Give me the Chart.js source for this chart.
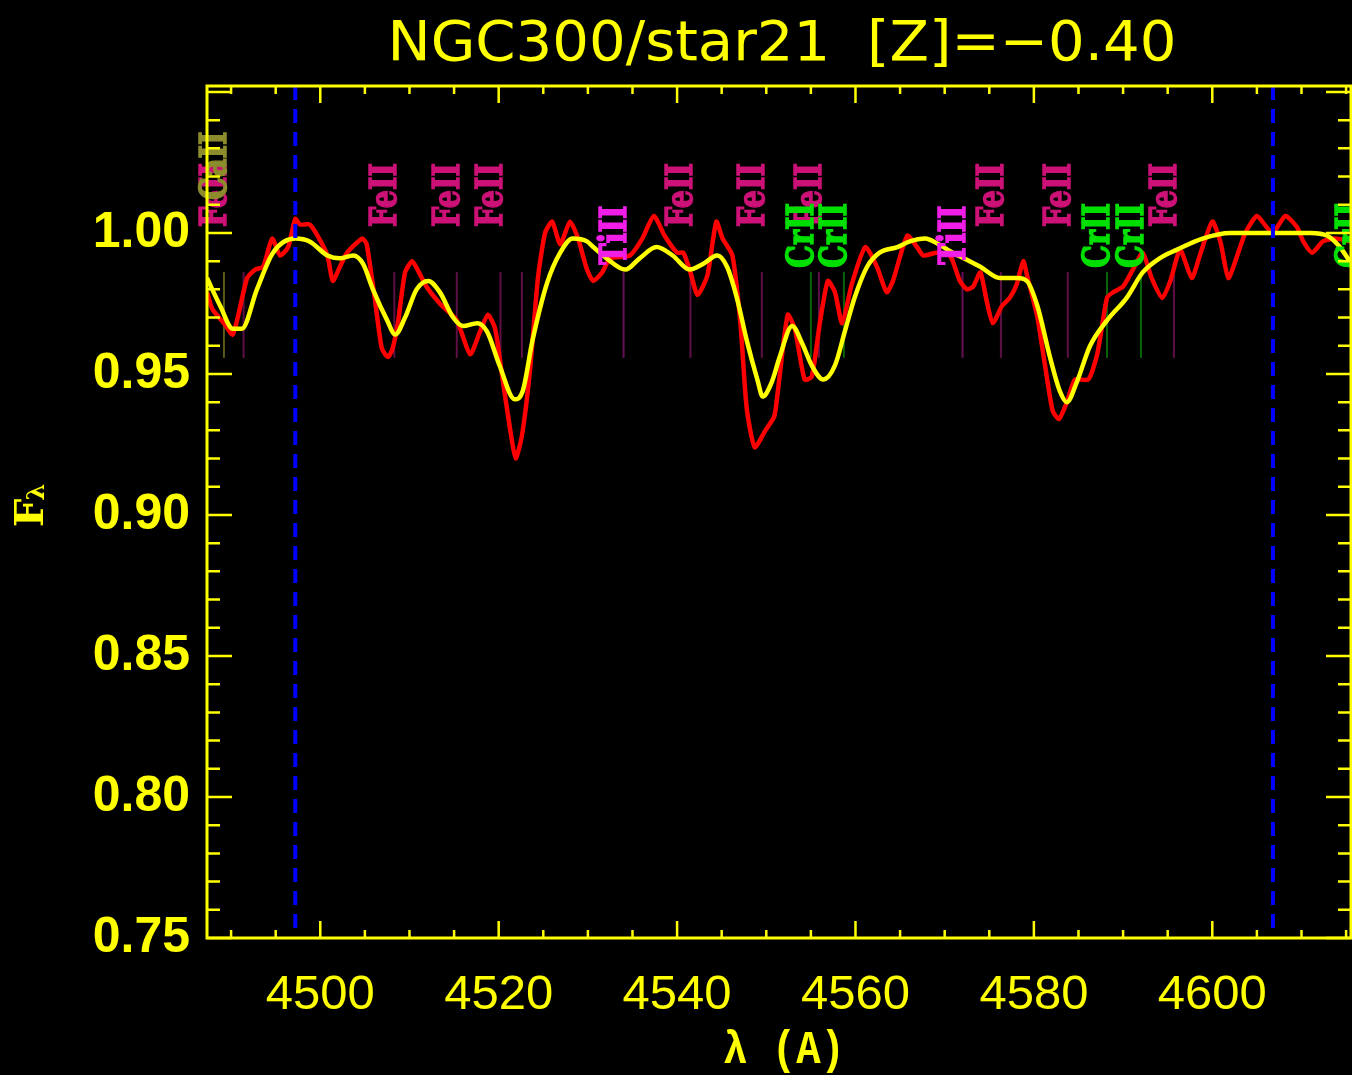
<!DOCTYPE html>
<html lang="en">
  <head>
    <meta charset="utf-8" />
    <title>NGC300/star21</title>
    <style>
      * {
        margin: 0;
        padding: 0;
      }
      body {
        background: #000;
      }
      .chartBox {
        width: 1352px;
        height: 1075px;
        background: #000;
      }
    </style>
  </head>
  <body>
    <div class="chartBox">
      <canvas id="myChart"></canvas>
    </div>
    <script src="https://cdn.jsdelivr.net/npm/chart.js/dist/chart.umd.min.js"></script>
    <script>
      // observed spectrum (red)
      const obsWave = [
        4487.3, 4487.9, 4489.2, 4490.2, 4491.8, 4492.7, 4493.6, 4494.6, 4495.5, 4496.4,
        4497.2, 4497.7, 4498.8, 4499.7, 4500.8, 4501.4, 4502.2, 4503.0, 4504.7, 4505.2,
        4506.1, 4506.9, 4507.6, 4508.1, 4508.7, 4509.5, 4510.3, 4510.9, 4511.9, 4513.4,
        4515.3, 4516.8, 4517.9, 4518.8, 4519.6, 4520.4, 4521.3, 4521.9, 4522.6, 4523.5,
        4524.4, 4525.2, 4526.0, 4526.9, 4528.0, 4528.9, 4529.9, 4530.6, 4531.6, 4532.5,
        4534.7, 4536.1, 4537.4, 4538.6, 4540.0, 4540.7, 4541.5, 4542.3, 4543.4, 4544.4,
        4545.1, 4546.2, 4547.1, 4547.8, 4548.7, 4549.9, 4550.9, 4551.3, 4552.4, 4553.2,
        4554.3, 4555.1, 4556.0, 4556.9, 4557.7, 4558.5, 4559.6, 4561.1, 4562.4, 4563.5,
        4564.2, 4565.8, 4566.9, 4567.6, 4569.1, 4570.6, 4571.7, 4572.5, 4573.2, 4574.0,
        4574.7, 4575.4, 4576.4, 4577.3, 4578.1, 4578.8, 4579.3, 4580.4, 4581.2, 4582.1,
        4582.8, 4583.7, 4584.6, 4586.1, 4587.1, 4588.2, 4588.9, 4590.0, 4591.1, 4592.2,
        4593.2, 4594.4, 4595.3, 4596.4, 4597.7, 4598.6, 4600.0, 4600.9, 4601.8, 4602.8,
        4603.7, 4605.0, 4606.1, 4606.8, 4608.2, 4609.5, 4610.2, 4611.2, 4612.4, 4613.8,
        4615.4,
      ];
      const obsFlux = [
        0.979, 0.973, 0.968, 0.964, 0.984, 0.987, 0.988, 0.998, 0.992, 0.995,
        1.005, 1.003, 1.003, 0.999, 0.992, 0.983, 0.988, 0.993, 0.998, 0.996,
        0.977, 0.959, 0.956, 0.959, 0.968, 0.986, 0.990, 0.987, 0.981, 0.975,
        0.969, 0.957, 0.965, 0.971, 0.966, 0.949, 0.930, 0.920, 0.928, 0.951,
        0.984, 1.000, 1.004, 0.996, 1.004, 0.998, 0.987, 0.983, 0.986, 0.991,
        0.992, 0.998, 1.006, 0.999, 0.993, 0.993, 0.986, 0.978, 0.985, 1.004,
        0.998, 0.992, 0.968, 0.938, 0.924, 0.930, 0.935, 0.944, 0.971, 0.966,
        0.948, 0.949, 0.968, 0.983, 0.979, 0.968, 0.982, 0.995, 0.988, 0.979,
        0.983, 0.999, 0.995, 0.992, 0.993, 0.992, 0.983, 0.980, 0.981, 0.986,
        0.976, 0.968, 0.974, 0.977, 0.982, 0.990, 0.984, 0.970, 0.954, 0.937,
        0.934, 0.940, 0.948, 0.948, 0.957, 0.977, 0.979, 0.981, 0.987, 0.993,
        0.984, 0.977, 0.983, 0.994, 0.984, 0.992, 1.004, 0.997, 0.984, 0.992,
        1.000, 1.006, 1.002, 1.000, 1.006, 1.002, 0.997, 0.993, 0.997, 0.998,
        0.997,
      ];

      // model spectrum (yellow)
      const fitWave = [
        4487.3, 4488.8, 4490.2, 4491.2, 4492.9, 4494.7, 4497.2, 4498.8, 4500.8, 4502.2,
        4503.7, 4504.8, 4505.9, 4507.5, 4508.4, 4509.5, 4510.8, 4512.1, 4513.4, 4514.9,
        4516.0, 4517.6, 4518.7, 4520.1, 4521.8, 4522.7, 4523.8, 4525.4, 4526.9, 4528.3,
        4529.9, 4530.6, 4532.1, 4534.2, 4535.8, 4537.7, 4539.5, 4541.4, 4542.9, 4544.5,
        4545.6, 4546.7, 4547.8, 4549.0, 4549.6, 4550.6, 4551.5, 4552.9, 4554.0, 4555.1,
        4556.4, 4557.7, 4558.8, 4559.9, 4561.3, 4562.7, 4564.7, 4566.1, 4567.8, 4569.3,
        4570.9, 4572.8, 4574.0, 4576.2, 4578.1, 4579.2, 4580.4, 4581.8, 4582.9, 4583.7,
        4584.8, 4586.3, 4588.2, 4590.4, 4592.2, 4594.1, 4596.0, 4598.9, 4602.0, 4605.0,
        4608.0, 4611.0, 4612.9, 4614.3, 4615.4,
      ];
      const fitFlux = [
        0.984, 0.974, 0.966, 0.966, 0.980, 0.993, 0.998, 0.997, 0.992, 0.991,
        0.992, 0.989, 0.980, 0.969, 0.964, 0.970, 0.980, 0.983, 0.979, 0.970,
        0.967, 0.968, 0.965, 0.953, 0.941, 0.944, 0.962, 0.982, 0.993, 0.998,
        0.997, 0.995, 0.991, 0.987, 0.991, 0.995, 0.992, 0.987, 0.989, 0.992,
        0.988, 0.977, 0.962, 0.948, 0.942, 0.947, 0.956, 0.967, 0.961, 0.953,
        0.948, 0.953, 0.965, 0.977, 0.988, 0.993, 0.995, 0.997, 0.998, 0.996,
        0.993, 0.990, 0.988, 0.984, 0.984, 0.983, 0.974, 0.956, 0.944, 0.940,
        0.947, 0.960, 0.969, 0.977, 0.986, 0.991, 0.994, 0.998, 1.000, 1.000,
        1.000, 1.000, 0.999, 0.995, 0.990,
      ];

      // fitting window limits (blue dashed)
      const cutWaves = [4497.2, 4606.8];

      // line identifications
      const lineWaves = [
        4489.2, 4491.4, 4508.3, 4515.3, 4520.2, 4522.6, 4534.0, 4541.5, 4549.5, 4555.0,
        4555.9, 4558.7, 4572.0, 4576.3, 4583.8, 4588.2, 4592.0, 4595.7, 4616.6,
      ];
      const lineIons = [
        "CaII", "FeII", "FeII", "FeII", "FeII", "FeII", "TiII", "FeII", "FeII", "CrII",
        "FeII", "CrII", "TiII", "FeII", "FeII", "CrII", "CrII", "FeII", "CrII",
      ];
      const labelWaves = [
        4489.2, 4508.3, 4515.3, 4520.2, 4541.5, 4549.5, 4555.9, 4576.3, 4583.8, 4595.7,
        4534.0, 4572.0, 4555.0, 4558.7, 4588.2, 4592.0, 4616.6, 4489.2,
      ];
      const labelIons = [
        "FeII", "FeII", "FeII", "FeII", "FeII", "FeII", "FeII", "FeII", "FeII", "FeII",
        "TiII", "TiII", "CrII", "CrII", "CrII", "CrII", "CrII", "CaII",
      ];

      const xTicks = [4500, 4520, 4540, 4560, 4580, 4600];
      const yTicks = [0.75, 0.8, 0.85, 0.9, 0.95, 1.0];

      const YELLOW = "#ffff00";
      const ionStyle = {
        FeII: { text: "#cc1177", line: "#5e1046", level: 1.0021 },
        TiII: { text: "#f01ee6", line: "#641058", level: 0.9887 },
        CrII: { text: "#00e000", line: "#0a640a", level: 0.9876 },
        CaII: { text: "#8c8c2c", line: "#5a5a14", level: 1.0117 },
      };

      // draw a string scaled to a given width
      function fitText(ctx, text, x, y, width, align) {
        const w = ctx.measureText(text).width;
        ctx.save();
        ctx.translate(x, y);
        ctx.scale(width / w, 1);
        ctx.textAlign = align;
        ctx.fillText(text, 0, 0);
        ctx.restore();
      }

      const spectrumDecor = {
        id: "spectrumDecor",
        beforeDatasetsDraw(chart) {
          const { ctx, chartArea, scales: { x, y } } = chart;
          ctx.save();
          ctx.lineWidth = 2;
          lineWaves.forEach((w, i) => {
            const px = x.getPixelForValue(w);
            if (px > chartArea.right) return;
            ctx.strokeStyle = ionStyle[lineIons[i]].line;
            ctx.beginPath();
            ctx.moveTo(px, y.getPixelForValue(0.9862));
            ctx.lineTo(px, y.getPixelForValue(0.9557));
            ctx.stroke();
          });
          ctx.restore();
        },
        afterDatasetsDraw(chart) {
          const { ctx, chartArea, scales: { x, y } } = chart;
          ctx.save();

          // blue dashed window limits
          ctx.strokeStyle = "#0000ff";
          ctx.lineWidth = 4;
          ctx.setLineDash([14, 9]);
          cutWaves.forEach((w) => {
            const px = x.getPixelForValue(w);
            ctx.beginPath();
            ctx.moveTo(px, chartArea.top);
            ctx.lineTo(px, chartArea.bottom);
            ctx.stroke();
          });
          ctx.setLineDash([]);

          // rotated ion labels (a thin stroke makes them heavier)
          ctx.font = 'bold 38px "DejaVu Serif"';
          const sx = 64 / ctx.measureText("FeII").width;
          labelWaves.forEach((w, i) => {
            const st = ionStyle[labelIons[i]];
            ctx.save();
            ctx.translate(x.getPixelForValue(w) + 2, y.getPixelForValue(st.level));
            ctx.rotate(-Math.PI / 2);
            ctx.scale(sx, 1);
            ctx.fillStyle = st.text;
            ctx.strokeStyle = st.text;
            ctx.lineWidth = 1.5;
            ctx.textAlign = "left";
            ctx.textBaseline = "alphabetic";
            ctx.fillText(labelIons[i], 0, 0);
            ctx.strokeText(labelIons[i], 0, 0);
            ctx.restore();
          });
          ctx.restore();
        },
        afterDraw(chart) {
          const { ctx, chartArea, scales: { x, y } } = chart;
          const { left, right, top, bottom } = chartArea;
          ctx.save();
          ctx.strokeStyle = YELLOW;
          ctx.fillStyle = YELLOW;

          // frame
          ctx.lineWidth = 3;
          ctx.strokeRect(left, top, right - left, bottom - top);

          // inward ticks
          ctx.lineWidth = 2.5;
          ctx.beginPath();
          for (let v = 4490; v <= x.max; v += 5) {
            const px = x.getPixelForValue(v);
            const len = v % 20 === 0 ? 17 : 8;
            ctx.moveTo(px, bottom);
            ctx.lineTo(px, bottom - len);
            ctx.moveTo(px, top);
            ctx.lineTo(px, top + len);
          }
          for (let k = 75; k <= 105; k++) {
            const py = y.getPixelForValue(k / 100);
            const len = k % 5 === 0 ? 25 : 13;
            ctx.moveTo(left, py);
            ctx.lineTo(left + len, py);
            ctx.moveTo(right, py);
            ctx.lineTo(right - len, py);
          }
          ctx.stroke();

          // title
          ctx.textBaseline = "alphabetic";
          ctx.font = '55px "DejaVu Sans"';
          fitText(ctx, "NGC300/star21  [Z]=\u22120.40", 782, 60, 789, "center");

          // x axis title
          ctx.font = 'bold 46px "Liberation Mono"';
          fitText(ctx, "\u03bb (A)", 784, 1063, 122, "center");

          // y axis title F_lambda
          ctx.translate(43, 527);
          ctx.rotate(-Math.PI / 2);
          ctx.textAlign = "left";
          ctx.font = 'bold 40px "DejaVu Serif"';
          ctx.fillText("F", 0, 0);
          const fw = ctx.measureText("F").width;
          ctx.font = 'bold 24px "DejaVu Serif"';
          ctx.fillText("\u03bb", fw - 2, 1);
          ctx.restore();
        },
      };

      const config = {
        type: "line",
        data: {
          datasets: [
            {
              label: "model",
              data: fitWave.map((w, i) => ({ x: w, y: fitFlux[i] })),
              borderColor: YELLOW,
              borderWidth: 4.5,
              pointRadius: 0,
              cubicInterpolationMode: "monotone",
              order: 0,
            },
            {
              label: "observed",
              data: obsWave.map((w, i) => ({ x: w, y: obsFlux[i] })),
              borderColor: "#ff0000",
              borderWidth: 4.5,
              pointRadius: 0,
              tension: 0.2,
              order: 1,
            },
          ],
        },
        options: {
          responsive: true,
          maintainAspectRatio: false,
          animation: false,
          layout: { padding: { top: 86, right: 1, left: 0, bottom: 0 } },
          plugins: {
            legend: { display: false },
            tooltip: { enabled: false },
            title: { display: false },
          },
          scales: {
            x: {
              type: "linear",
              min: 4487.3,
              max: 4615.55,
              grid: { display: false, drawTicks: false },
              border: { display: false },
              afterBuildTicks: (s) => {
                s.ticks = xTicks.map((v) => ({ value: v }));
              },
              afterFit: (s) => {
                s.height = 137;
              },
              ticks: {
                color: YELLOW,
                font: { family: '"Liberation Sans"', size: 49 },
                padding: 28,
                maxRotation: 0,
                autoSkip: false,
                callback: (v) => String(v),
              },
            },
            y: {
              type: "linear",
              min: 0.75,
              max: 1.0521,
              grid: { display: false, drawTicks: false },
              border: { display: false },
              afterBuildTicks: (s) => {
                s.ticks = yTicks.map((v) => ({ value: v }));
              },
              afterFit: (s) => {
                s.width = 207;
              },
              ticks: {
                color: YELLOW,
                font: { family: '"Liberation Sans"', size: 50, weight: "bold" },
                padding: 17,
                autoSkip: false,
                callback: (v) => v.toFixed(2),
              },
            },
          },
        },
        plugins: [spectrumDecor],
      };

      const myChart = new Chart(document.getElementById("myChart"), config);
    </script>
  </body>
</html>
